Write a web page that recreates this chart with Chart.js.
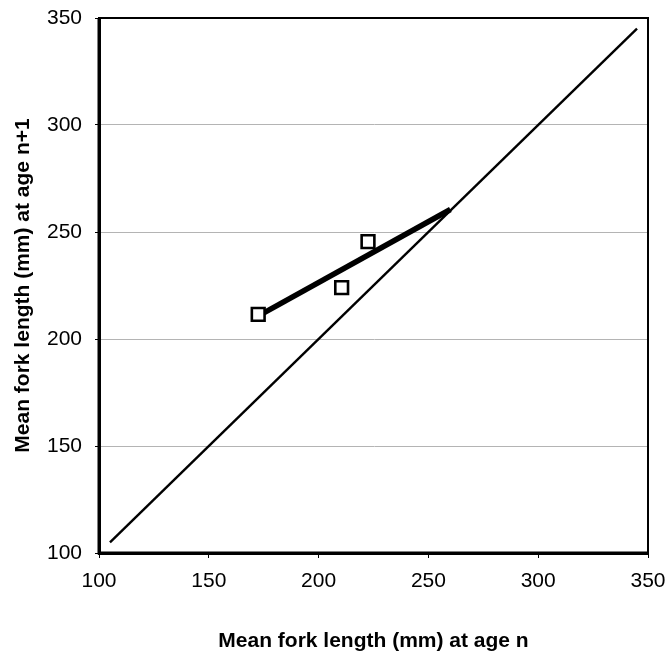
<!DOCTYPE html>
<html>
<head>
<meta charset="utf-8">
<script src="https://cdn.jsdelivr.net/npm/chart.js@4.4.0/dist/chart.umd.min.js"></script>
<style>
    html, body { margin: 0; padding: 0; background: #fff; }
    #wrap { width: 667px; height: 655px; }
</style>
</head>
<body>
<div id="wrap"><canvas id="growthChart" width="667" height="655"></canvas></div>
<script>
const xTicks = [100, 150, 200, 250, 300, 350];
const yTicks = [100, 150, 200, 250, 300, 350];

// 1:1 line
const identityX = [105, 345];
const identityY = [105, 345];

// fitted growth line
const fitX = [173, 260];
const fitY = [211, 260.5];

// observed means
const obsX = [172.5, 210.5, 222.5];
const obsY = [211.5, 224, 245.5];

const xTitle = 'Mean fork length (mm) at age n';
const yTitle = 'Mean fork length (mm) at age n+1';

const toPoints = (xs, ys) => xs.map((x, i) => ({ x: x, y: ys[i] }));

const fontFamily = '"Liberation Sans", Arial, sans-serif';

const noAutoPadding = scale => {
    scale.paddingLeft = 0;
    scale.paddingRight = 0;
    scale.paddingTop = 0;
    scale.paddingBottom = 0;
};

// frame round the plot area
const framePlugin = {
    id: 'frame',
    afterDatasetsDraw(chart) {
        const { ctx, chartArea: a } = chart;
        ctx.save();
        ctx.strokeStyle = '#000';
        ctx.lineWidth = 2;
        ctx.strokeRect(a.left, a.top, a.right - a.left, a.bottom - a.top);
        ctx.lineWidth = 3;
        ctx.beginPath();
        ctx.moveTo(a.left, a.top);
        ctx.lineTo(a.left, a.bottom);
        ctx.lineTo(a.right, a.bottom);
        ctx.stroke();
        ctx.restore();
    }
};

new Chart(document.getElementById('growthChart'), {
    type: 'scatter',
    data: {
        datasets: [
            {
                label: '1:1',
                data: toPoints(identityX, identityY),
                order: 2,
                showLine: true,
                borderColor: '#000',
                borderWidth: 2.4,
                pointRadius: 0
            },
            {
                label: 'Fit',
                data: toPoints(fitX, fitY),
                order: 1,
                showLine: true,
                borderColor: '#000',
                borderWidth: 5.5,
                pointRadius: 0
            },
            {
                label: 'Observed',
                data: toPoints(obsX, obsY),
                order: 0,
                showLine: false,
                pointStyle: 'rect',
                pointRadius: 9,
                borderColor: '#000',
                borderWidth: 2.6,
                backgroundColor: '#fff'
            }
        ]
    },
    options: {
        responsive: false,
        animation: false,
        layout: { padding: { left: 0, right: 19, top: 18, bottom: 0 } },
        plugins: {
            legend: { display: false },
            tooltip: { enabled: false }
        },
        scales: {
            x: {
                type: 'linear',
                min: 100,
                max: 350,
                afterBuildTicks: scale => { scale.ticks = xTicks.map(v => ({ value: v })); },
                afterFit: scale => { scale.height = 102; noAutoPadding(scale); },
                border: { display: true, color: '#000', width: 3 },
                grid: { drawOnChartArea: false, drawTicks: true, tickLength: 5, tickColor: '#000' },
                ticks: { color: '#000', padding: 11, maxRotation: 0, font: { family: fontFamily, size: 21 } },
                title: {
                    display: true,
                    text: xTitle,
                    color: '#000',
                    padding: { top: 0, bottom: 1 },
                    font: { family: fontFamily, size: 21, weight: 'bold' }
                }
            },
            y: {
                type: 'linear',
                min: 100,
                max: 350,
                afterBuildTicks: scale => { scale.ticks = yTicks.map(v => ({ value: v })); },
                afterFit: scale => { scale.width = 99; noAutoPadding(scale); },
                border: { display: true, color: '#000', width: 3 },
                grid: {
                    color: '#b4b4b4',
                    lineWidth: 1,
                    borderDash: [3, 2],
                    tickLength: 4,
                    tickColor: '#000',
                    tickBorderDash: [],
                    drawTicks: true
                },
                ticks: { color: '#000', padding: 13, font: { family: fontFamily, size: 21 } },
                title: {
                    display: true,
                    text: yTitle,
                    color: '#000',
                    padding: { top: 11, bottom: 0 },
                    font: { family: fontFamily, size: 21, weight: 'bold' }
                }
            }
        }
    },
    plugins: [framePlugin]
});
</script>
</body>
</html>
